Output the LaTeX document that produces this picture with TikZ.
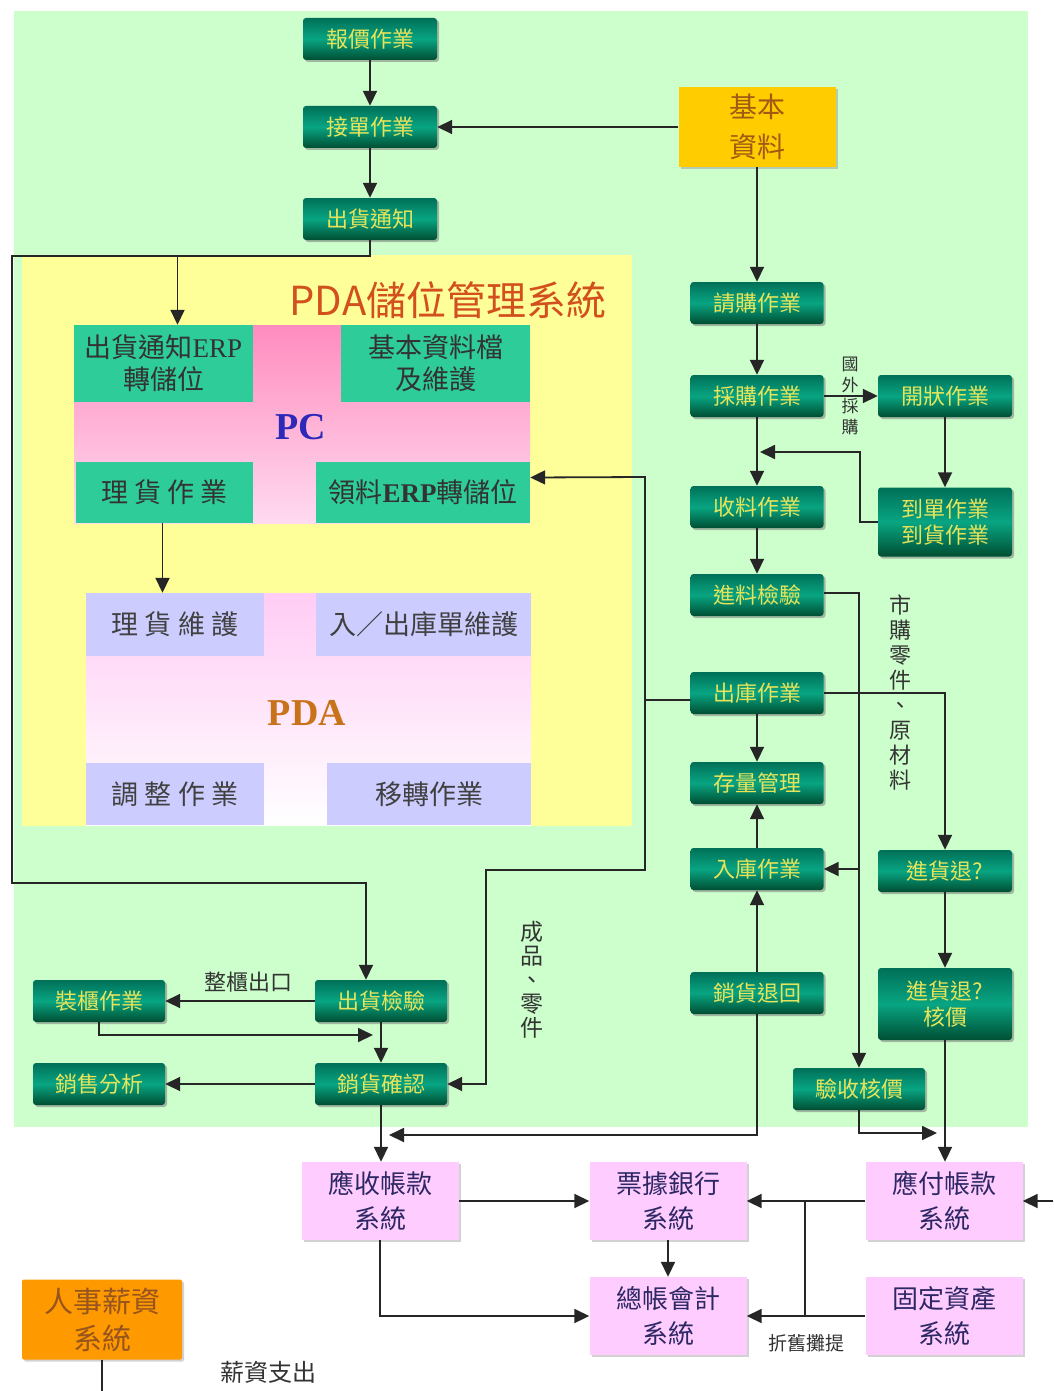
\documentclass[tikz,border=0pt]{standalone}
\usepackage{fontspec}
\setmainfont{Liberation Serif}
\newfontfamily\cjk{Noto Sans CJK TC}
\usepackage{tikz}
\usetikzlibrary{arrows.meta}
\usetikzlibrary{shadows}
\definecolor{mintbg}{RGB}{204,255,204}
\definecolor{pdayellow}{RGB}{255,255,153}
\definecolor{tealtop}{RGB}{0,112,88}
\definecolor{tealmid}{RGB}{8,165,130}
\definecolor{tealbot}{RGB}{0,78,50}
\definecolor{optext}{RGB}{232,228,90}
\definecolor{pcteal}{RGB}{46,204,152}
\definecolor{pcpink}{RGB}{255,140,190}
\definecolor{pcpinklight}{RGB}{255,218,240}
\definecolor{pdalav}{RGB}{204,204,255}
\definecolor{pdapink}{RGB}{255,204,245}
\definecolor{goldbox}{RGB}{255,204,0}
\definecolor{goldtext}{RGB}{160,90,20}
\definecolor{syspink}{RGB}{255,204,255}
\definecolor{systext}{RGB}{45,40,100}
\definecolor{hrorange}{RGB}{255,153,0}
\definecolor{hrtext}{RGB}{150,85,30}
\definecolor{titlered}{RGB}{210,80,30}
\definecolor{pcblue}{RGB}{45,40,185}
\definecolor{pdabrown}{RGB}{200,115,25}

\tikzset{
  opbox/.style={rounded corners=3pt, inner sep=0pt, align=center,
    minimum width=134pt, minimum height=42pt,
    top color=tealtop, bottom color=tealbot, middle color=tealmid,
    text=optext, font=\cjk\fontsize{22}{26}\selectfont,
    drop shadow={shadow xshift=2pt, shadow yshift=-2pt, fill=black!55}},
  pcbox/.style={fill=pcteal, inner sep=0pt, align=center, text=black!80,
    font=\cjk\fontsize{27}{32}\selectfont},
  pdabox/.style={fill=pdalav, inner sep=0pt, align=center, text=black!75,
    font=\cjk\fontsize{27}{32}\selectfont},
  sysbox/.style={fill=syspink, inner sep=0pt, align=center,
    minimum width=157pt, minimum height=78pt, text=systext,
    font=\cjk\fontsize{26}{35}\selectfont,
    drop shadow={shadow xshift=2pt, shadow yshift=-2pt, fill=black!35}},
  flow/.style={draw=black!85, line width=1.8pt, -{Triangle[length=15pt,width=14pt]}},
  wire/.style={draw=black!85, line width=1.8pt},
  vlabel/.style={align=center, inner sep=0pt, text=black!80},
  note/.style={inner sep=0pt, text=black!80},
}

\begin{document}
\begin{tikzpicture}[x=1pt,y=-1pt]
  \fill[white] (0,0) rectangle (1053,1391);
  \useasboundingbox (0,0) rectangle (1053,1391);
  \fill[mintbg] (14,11) rectangle (1028,1127);
  \fill[pdayellow] (22,255) rectangle (632,826);

  \shade[top color=pcpink, bottom color=pcpinklight] (74,325) rectangle (530,523);
  \shade[top color=pdapink, bottom color=white] (86,593) rectangle (531,825);

  \node[font=\cjk\fontsize{40}{40}\selectfont, text=titlered] (title) at (448,300) {PDA儲位管理系統};

  \node[pcbox, minimum width=179pt, minimum height=77pt] (pcA) at (163.5,363.5) {出貨通知{\rmfamily ERP}\\轉儲位};
  \node[pcbox, minimum width=189pt, minimum height=77pt] (pcB) at (435.5,363.5) {基本資料檔\\及維護};
  \node[pcbox, minimum width=177pt, minimum height=61pt] (pcC) at (164.5,492.5) {理 貨 作 業};
  \node[pcbox, minimum width=214pt, minimum height=61pt] (pcD) at (423,492.5) {領料{\rmfamily\bfseries ERP}轉儲位};
  \node[font=\bfseries\fontsize{38}{38}\selectfont, text=pcblue] (pclabel) at (301,427) {PC};

  \node[pdabox, minimum width=178pt, minimum height=63pt] (pdaA) at (175,624.5) {理 貨 維 護};
  \node[pdabox, minimum width=215pt, minimum height=63pt] (pdaB) at (423.5,624.5) {入／出庫單維護};
  \node[pdabox, minimum width=178pt, minimum height=62pt] (pdaC) at (175,794) {調 整 作 業};
  \node[pdabox, minimum width=204pt, minimum height=62pt] (pdaD) at (429,794) {移轉作業};
  \node[font=\bfseries\fontsize{38}{38}\selectfont, text=pdabrown] (pdalabel) at (307,713) {PDA};

  \node[opbox] (baojia) at (370,39) {報價作業};
  \node[opbox] (jiedan) at (370,127) {接單作業};
  \node[opbox] (chuhuo) at (370,219) {出貨通知};
  \node[fill=goldbox, inner sep=0pt, align=center, minimum width=157pt, minimum height=80pt,
    text=goldtext, font=\cjk\fontsize{28}{40}\selectfont,
    drop shadow={shadow xshift=2pt, shadow yshift=-2pt, fill=black!40}] (jiben) at (757,127) {基本\\資料};

  \node[opbox, minimum width=133pt] (qinggou) at (757,303) {請購作業};
  \node[opbox, minimum width=133pt] (caigou) at (757,396) {採購作業};
  \node[opbox, minimum width=133pt] (shouliao) at (757,507) {收料作業};
  \node[opbox, minimum width=133pt] (jinliao) at (757,595) {進料檢驗};
  \node[opbox, minimum width=133pt] (chuku) at (757,693) {出庫作業};
  \node[opbox, minimum width=133pt] (cunliang) at (757,783) {存量管理};
  \node[opbox, minimum width=133pt] (ruku) at (757,869) {入庫作業};
  \node[opbox, minimum width=133pt] (xiaotui) at (757,993) {銷貨退回};

  \node[opbox] (kaizhuang) at (945,396) {開狀作業};
  \node[opbox, minimum height=69pt] (daodan) at (945,522) {到單作業\\到貨作業};
  \node[opbox] (jintui) at (945,871) {進貨退?};
  \node[opbox, minimum height=72pt] (jinhe) at (945,1004) {進貨退?\\核價};
  \node[opbox, minimum width=132pt] (yanshou) at (859,1089) {驗收核價};

  \node[opbox, minimum width=132pt] (zhuanggui) at (99,1001) {裝櫃作業};
  \node[opbox, minimum width=132pt] (chujian) at (381,1001) {出貨檢驗};
  \node[opbox, minimum width=132pt] (xiaofen) at (99,1084) {銷售分析};
  \node[opbox, minimum width=132pt] (xiaoque) at (381,1084) {銷貨確認};

  \node[sysbox] (yingshou) at (380,1201) {應收帳款\\系統};
  \node[sysbox] (piaoju) at (668,1201) {票據銀行\\系統};
  \node[sysbox] (yingfu) at (944,1201) {應付帳款\\系統};
  \node[sysbox] (zongzhang) at (668,1316) {總帳會計\\系統};
  \node[sysbox] (guding) at (944,1316) {固定資產\\系統};
  \node[fill=hrorange, rounded corners=2pt, inner sep=0pt, align=center,
    minimum width=160pt, minimum height=80pt, text=hrtext,
    font=\cjk\fontsize{29}{37}\selectfont,
    drop shadow={shadow xshift=2pt, shadow yshift=-2pt, fill=black!35}] (renshi) at (102,1319.5) {人事薪資\\系統};

  \node[note, font=\cjk\fontsize{22}{22}\selectfont] (zhenggui) at (248,982) {整櫃出口};
  \node[note, font=\cjk\fontsize{24}{24}\selectfont] (xinzi) at (268,1372) {薪資支出};
  \node[note, font=\cjk\fontsize{19}{19}\selectfont] (zhejiu) at (806,1343) {折舊攤提};
  \node[vlabel, font=\cjk\fontsize{17}{21}\selectfont] (guowai) at (850,396) {國\\外\\採\\購};
  \node[vlabel, font=\cjk\fontsize{22}{25}\selectfont] (shigou) at (900,693) {市\\購\\零\\件\\、\\原\\材\\料};
  \node[vlabel, font=\cjk\fontsize{23}{24}\selectfont] (chengpin) at (532,980) {成\\品\\、\\零\\件};

  \coordinate (busL) at (12,256);
  \coordinate (busB) at (12,883);
  \coordinate (busR) at (645,477);
  \coordinate (busD) at (645,870);
  \coordinate (jn1) at (760,452);
  \coordinate (jn2) at (389,1135);
  \coordinate (jn3) at (937,1133);
  \coordinate (jn4) at (373,1035);
  \coordinate (jn5) at (805,1201);
  \coordinate (inR) at (1053,1201);
  \coordinate (outH) at (102,1391);

  \draw[flow] (baojia) -- (jiedan);
  \draw[flow] (jiedan) -- (chuhuo);
  \draw[flow] (jiben) -- (jiedan);
  \draw[flow] (jiben) -- (qinggou);
  \draw[flow] (chuhuo.south) |- (busL) -- (busB) -| ([xshift=-15pt]chujian.north);
  \draw[flow] ([xshift=14pt]pcA.north |- busL) -- ([xshift=14pt]pcA.north);
  \draw[flow] ([xshift=-2pt]pcC.south) -- ([xshift=-2pt]pcC.south |- pdaA.north);

  \draw[flow] ([yshift=-7pt]chuku.west) -| (busR) -- ([yshift=15pt]pcD.east);
  \draw[flow] ([yshift=-7pt]chuku.west) -| (busD) -- (486,870) |- (xiaoque.east);

  \draw[flow] (qinggou) -- (caigou);
  \draw[flow] (caigou) -- (kaizhuang);
  \draw[flow] (caigou) -- (shouliao);
  \draw[flow] (kaizhuang) -- (daodan);
  \draw[flow] (daodan.west) -| (860,452) -- (jn1);
  \draw[flow] (shouliao) -- (jinliao);
  \draw[flow] ([yshift=2pt]jinliao.east) -| (yanshou.north);
  \draw[flow] (yanshou.north |- ruku.east) -- (ruku.east);
  \draw[flow] (chuku.east) -| (jintui.north);
  \draw[flow] (chuku) -- (cunliang);
  \draw[flow] (ruku) -- (cunliang);
  \draw[flow] (xiaotui) -- (ruku);
  \draw[flow] (xiaotui.south) |- (jn2);
  \draw[flow] (jintui) -- (jinhe);
  \draw[flow] (jinhe.south) -- (jinhe.south |- yingfu.north);
  \draw[flow] (yanshou.south) |- (jn3);

  \draw[flow] (chujian) -- (zhuanggui);
  \draw[flow] (chujian) -- (xiaoque);
  \draw[flow] (zhuanggui.south) |- (jn4);
  \draw[flow] (xiaoque) -- (xiaofen);
  \draw[flow] (xiaoque.south) -- (xiaoque.south |- yingshou.north);

  \draw[flow] (yingshou) -- (piaoju);
  \draw[flow] (yingshou.south) |- (zongzhang.west);
  \draw[flow] (piaoju) -- (zongzhang);
  \draw[flow] (yingfu) -- (piaoju);
  \draw[flow] (guding) -- (zongzhang);
  \draw[wire] (jn5) -- (jn5 |- guding.west);
  \draw[flow] (inR) -- (yingfu.east);
  \draw[wire] (renshi.south) -- (outH);
\end{tikzpicture}
\end{document}
